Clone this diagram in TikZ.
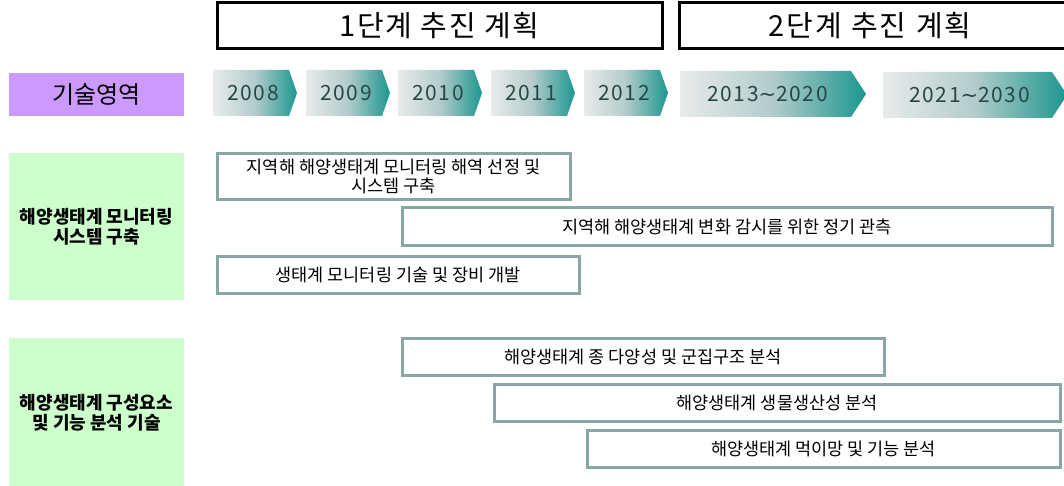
\documentclass[tikz,border=0pt]{standalone}
\usepackage{fontspec}
\setmainfont{Noto Sans CJK KR}
\newfontfamily\yearfont[LetterSpace=8]{Noto Sans CJK KR}
\newfontfamily\headfont[LetterSpace=6]{Noto Sans CJK KR}
\newfontfamily\tildefont{DejaVu Sans}
\definecolor{purplebox}{RGB}{204,153,255}
\definecolor{greenbox}{RGB}{204,255,204}
\definecolor{barline}{RGB}{138,166,166}
\definecolor{yrleft}{RGB}{233,235,235}
\definecolor{yrmid}{RGB}{178,204,202}
\definecolor{yrright}{RGB}{28,150,144}
\definecolor{yrtext}{RGB}{40,72,72}
\newcommand{\yeararrow}[7]{%
  \shade[yrshade] (#2,#5) -- ({#3-#4},#5) -- (#3,{(#5+#6)/2}) -- ({#3-#4},#6) -- (#2,#6) -- cycle;
  \node[yrtext] (#1) at ({(#2+#3-#4)/2+2},{(#5+#6)/2}) {#7};}
\newcommand{\wavetilde}{{\tildefont\char"223C}}
\begin{document}
\begin{tikzpicture}[x=1pt,y=-1pt,
  headbox/.style={draw=black,line width=3pt,fill=white,inner sep=0pt,font=\headfont\fontsize{29}{33}\selectfont},
  catbox/.style={fill=purplebox,inner sep=0pt,font=\fontsize{24}{28}\selectfont},
  areabox/.style={fill=greenbox,inner sep=0pt,align=center,font=\bfseries\fontsize{18}{20}\selectfont},
  taskbar/.style={draw=barline,line width=3pt,fill=white,inner sep=0pt,align=center,font=\fontsize{17.5}{19.5}\selectfont},
  yrshade/.style={left color=yrleft,right color=yrright,middle color=yrmid},
  yrtext/.style={text=yrtext,inner sep=0pt,font=\yearfont\fontsize{21}{24}\selectfont}]
\useasboundingbox (0,0) rectangle (1064,486);
\clip (0,0) rectangle (1064,486);
\fill[white] (0,0) rectangle (1064,486);

% phase headers
\node[headbox,minimum width=445pt,minimum height=46pt] (phase1) at (439.5,26) {1단계 추진 계획};
\node[headbox,minimum width=388pt,minimum height=46pt,text width=388pt,align=center] (phase2) at (873,26) {\hspace*{-6pt}2단계 추진 계획};

% category label
\node[catbox,minimum width=175pt,minimum height=43pt] (cat) at (96.5,94.5) {기술영역};

% year arrows
\yeararrow{y2008}{213}{297}{8}{70}{116}{2008}
\yeararrow{y2009}{306}{390}{8}{70}{116}{2009}
\yeararrow{y2010}{398}{482}{8}{70}{116}{2010}
\yeararrow{y2011}{491}{575}{8}{70}{116}{2011}
\yeararrow{y2012}{584}{668}{8}{70}{116}{2012}
\yeararrow{y2013}{680}{866}{15}{71}{117}{2013\wavetilde 2020}
\yeararrow{y2021}{883}{1067}{15}{72}{118}{2021\wavetilde 2030}

% area boxes
\node[areabox,minimum width=175pt,minimum height=147pt] (area1) at (96.5,226.5) {해양생태계 모니터링\\시스템 구축};
\node[areabox,minimum width=175pt,minimum height=151pt] (area2) at (96.5,413) {해양생태계 구성요소\\및 기능 분석 기술};

% task bars
\node[taskbar,minimum width=353pt,minimum height=46pt] (t1) at (393.5,176.5) {지역해 해양생태계 모니터링 해역 선정 및\\시스템 구축};
\node[taskbar,minimum width=650pt,minimum height=37pt] (t2) at (727,226.5) {지역해 해양생태계 변화 감시를 위한 정기 관측};
\node[taskbar,minimum width=362pt,minimum height=37pt] (t3) at (398,274.5) {생태계 모니터링 기술 및 장비 개발};
\node[taskbar,minimum width=482pt,minimum height=37pt] (t4) at (643,356.5) {해양생태계 종 다양성 및 군집구조 분석};
\node[taskbar,minimum width=566pt,minimum height=37pt] (t5) at (777,402.5) {해양생태계 생물생산성 분석};
\node[taskbar,minimum width=473pt,minimum height=37pt] (t6) at (823.5,448.5) {해양생태계 먹이망 및 기능 분석};
\end{tikzpicture}
\end{document}
